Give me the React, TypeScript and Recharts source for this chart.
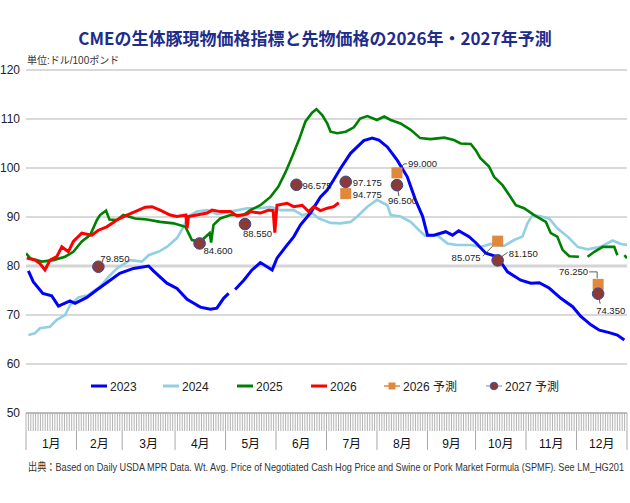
import { CartesianGrid, Line, LineChart, ReferenceLine, XAxis, YAxis } from 'recharts';

// [trading day, price]
const y2023: [number, number | null][] = [
  [1, 79], [3, 76.8], [7, 74.4], [10.7, 73.9], [13.5, 71.8], [18.3, 72.9], [20.4, 72.4], [25.3, 73.6], [29.4, 75.1],
  [35, 77.1], [39, 78.5], [44.7, 79.5], [51, 80], [53, 79], [58.6, 76.5], [62.8, 75.4], [67, 73.2], [72.5, 71.6],
  [76.7, 71.2], [79.4, 71.4], [82.2, 73.4], [84.3, 74.4], [85.5, null], [87, 75.2], [90.6, 77.1], [94, 79.2],
  [97.5, 80.7], [102.4, 79.2], [104.4, 81.6], [108, 83.9], [111.4, 86], [114.2, 88.4], [118.3, 90.8], [122.5, 94.1],
  [125.3, 95.5], [128, 97.6], [130.8, 99.9], [135, 103], [140.5, 105.6], [144, 106.1], [146.8, 105.7], [150.3, 104.3],
  [154.4, 101.6], [158.6, 98.2], [162, 93.5], [165, 90.1], [167, 86.3], [169.7, 86.3], [174.6, 87], [177.4, 86.3],
  [180, 87.2], [184.3, 86], [187, 84.8], [191.3, 82.6], [196, 81.9], [200.3, 78.8], [205.8, 77.1], [210, 76.5],
  [213.5, 76.6], [217.6, 75.5], [222.5, 73.4], [227.4, 71.7], [230.8, 69.7], [235, 68], [238.5, 66.9], [242.6, 66.4],
  [246, 65.9], [248.9, 64.9],
];
const y2024: [number, number | null][] = [
  [1, 65.9], [3.75, 66.3], [5.8, 67.3], [10, 67.6], [12.8, 69], [16.25, 70], [18.3, 72], [21.8, 73.6], [26, 74.1],
  [30.8, 75.8], [34.3, 77.8], [37.8, 79.5], [43.3, 81.2], [48.2, 80.9], [51, 82.2], [55, 82.9], [58.6, 83.9],
  [62.8, 85.7], [65.5, 88], [67.6, 90.1], [71, 91.1], [75.3, 91.4], [79.5, 90.6], [85, 91.1], [92, 91.8], [97.5, 91.8],
  [101.7, 92.1], [105.8, 91.4], [111.4, 91.4], [114.9, 90.4], [119, 90.8], [121.8, 89.7], [126.7, 88.8], [130.8, 88.7],
  [135, 89], [137.8, 90.1], [142, 92.1], [146, 93.5], [150.3, 92.4], [151.7, 90.4], [155.8, 90.1], [160, 89],
  [163.5, 87.3], [166, 86.2], [171, 86.3], [175.3, 84.6], [179.4, 84.3], [185, 84.3], [189, 83.9], [193.3, 84.5],
  [198.9, 84.1], [203, 85.3], [206.5, 86], [208.6, 88.7], [210.7, 90.4], [213.5, 90.2], [217.6, 89.7], [221, 87.7],
  [225.3, 86], [229.5, 83.9], [233.6, 83.4], [239, 83.9], [244, 85.2], [247.5, 84.5], [250, 84.3],
];
const y2025: [number, number | null][] = [
  [0, 82.6], [1.7, 81.6], [6.5, 80.9], [11.4, 81.2], [16.25, 81.9], [19.7, 82.9], [23.2, 85], [26.7, 86.3],
  [29.5, 89.4], [30.8, 90.4], [33.3, 91.3], [34.7, 89.5], [37.8, 89.4], [40.5, 90.4], [45.4, 89.7], [50.3, 89.5],
  [55.8, 89], [61.4, 88.7], [66.3, 88], [67.6, 86.7], [69, 85.3], [72.5, 85], [76.4, 86.7], [77, 84.8], [78, 88.4],
  [80.8, 89.7], [85, 90.4], [90.5, 90.4], [93.3, 91.4], [97.5, 92.4], [101.7, 94.1], [105, 96.2], [108, 99.2],
  [110.7, 102.3], [113.5, 105.7], [116.25, 109.5], [119, 111.3], [120.8, 112], [123.2, 110.8], [125.3, 109.1],
  [126.7, 107.4], [129.5, 107.1], [133, 107.4], [136.4, 108.3], [139, 110.1], [142, 110.6], [146, 109.8], [149, 110.5],
  [151.7, 109.8], [155.8, 109.1], [160, 107.8], [164, 106.1], [168.3, 105.9], [174, 106.2], [178, 105.7], [180.8, 105],
  [185, 104.9], [187, 103.7], [189, 102], [192.6, 100.3], [194.7, 98.2], [198.2, 96.5], [201, 94.5], [203.75, 92.4],
  [207.2, 91.8], [211.4, 90.4], [216.25, 89], [218.3, 86.7], [221, 86], [223.2, 83.3], [226, 82], [230, 81.9],
  [231.8, null], [233.6, 81.9], [236.4, 82.9], [239.9, 83.9], [244.7, 83.9], [246, 82.2], [247.5, null], [248.9, 82.2],
  [250, 81.6],
];
const y2026: [number, number | null][] = [
  [0.3, 81.6], [3.75, 81.2], [5.8, 80.5], [7.9, 79.2], [10, 81.2], [12.8, 81.9], [14.9, 83.9], [17.6, 82.9],
  [19.7, 85], [23.2, 86.7], [27.4, 86.3], [30.1, 87.3], [33.6, 88], [37.8, 89.4], [42, 90.4], [45.4, 91.1],
  [49.6, 92], [52.4, 92.1], [55.8, 91.4], [60, 90.4], [62.8, 90.1], [66.5, 90.4], [67, 87.7], [67.6, 90.1], [71, 90.4],
  [75.3, 90.8], [77.4, 91.4], [80.8, 91.1], [85, 91.1], [87.8, 90.2], [92, 90.6], [93.3, 91.1], [97.5, 90.8],
  [101, 91.4], [102.8, 91.3], [103.5, 86.8], [104.4, 92.4], [108.6, 92.8], [111.4, 92.1], [114.9, 92.4], [117.6, 91.1],
  [119.7, 92.1], [122.5, 91.3], [125.3, 91.8], [128, 92.1], [130.1, 92.9],
];
// futures forecasts at contract months
const f2026: [number, number][] = [[133, 94.775], [154.3, 99.0], [196.2, 85.075], [238, 76.25]];
const f2027: [number, number][] = [
  [30.1, 79.85], [72.2, 84.6], [91.1, 88.55], [112.5, 96.575], [133, 97.175], [154.3, 96.5], [196.2, 81.15], [238, 74.35],
];

const monthEdges = [0, 21, 40, 62, 83, 104, 125, 146, 167, 187, 208, 229, 250];
const monthNames = ['1月', '2月', '3月', '4月', '5月', '6月', '7月', '8月', '9月', '10月', '11月', '12月'];
const yTicks = [50, 60, 70, 80, 90, 100, 110, 120];

const FONT = "'Liberation Sans', Arial, 'Noto Sans CJK JP', sans-serif";
const toPts = (a: [number, number | null][]) => a.map(([d, v]) => ({ d, v }));
const monthMids = monthEdges.slice(0, -1).map((e, i) => (e + monthEdges[i + 1]) / 2);
// one hatch stroke per trading day, plus month centres for the labels
const axisTicks = Array.from(new Set([...Array.from({ length: 251 }, (_, i) => i), ...monthMids])).sort((a, b) => a - b);

// label placement for forecast markers: text offset, anchor, optional leader polyline
type Lab = { dx: number; dy: number; anchor?: 'start' | 'end'; lead?: number[][] };
const lab2026: Lab[] = [
  { dx: 7, dy: 4 },
  { dx: 11, dy: -6, lead: [[2, -3], [7, -9], [10, -9]] },
  { dx: -17, dy: 20, anchor: 'end', lead: [[0, 0], [-15, 15]] },
  { dx: -10, dy: -9, anchor: 'end', lead: [[-9, -12.5], [-1, -12.5], [-1, -6]] },
];
const lab2027: Lab[] = [
  { dx: 2, dy: -5 },
  { dx: 4, dy: 11 },
  { dx: -2, dy: 13 },
  { dx: 6, dy: 4 },
  { dx: 7, dy: 4 },
  { dx: -9, dy: 19, lead: [[1, 5], [2, 11]] },
  { dx: 11, dy: -3, lead: [[3, -3], [10, -8]] },
  { dx: -2, dy: 20, lead: [[1, 5], [2, 10]] },
];

function markLabel(cx: number, cy: number, value: number, l: Lab) {
  return (
    <g>
      {l.lead && (
        <polyline
          points={l.lead.map(([a, b]) => `${cx + a},${cy + b}`).join(' ')}
          fill="none"
          stroke="#333"
          strokeWidth={0.8}
        />
      )}
      <text x={cx + l.dx} y={cy + l.dy} textAnchor={l.anchor || 'start'} fontSize={9.5} fill="#222" fontFamily={FONT}>
        {value.toFixed(3)}
      </text>
    </g>
  );
}

const squareDot = (p: any) => {
  const { cx, cy, index, payload } = p;
  return (
    <g key={`s${index}`}>
      {markLabel(cx, cy, payload.v, lab2026[index])}
      <rect x={cx - 5.5} y={cy - 5.5} width={11} height={11} fill="#e0883c" />
    </g>
  );
};
const circleDot = (p: any) => {
  const { cx, cy, index, payload } = p;
  return (
    <g key={`c${index}`}>
      {markLabel(cx, cy, payload.v, lab2027[index])}
      <circle cx={cx} cy={cy} r={5.8} fill="#8b3a3a" stroke="#3a4a8c" strokeWidth={1} />
    </g>
  );
};

// y is the axis top here (tickSize 0, tickMargin 0)
const renderAxisTick = (p: any) => {
  const { x, y, payload } = p;
  const v = payload.value;
  const mi = monthMids.indexOf(v);
  return (
    <g>
      {Number.isInteger(v) && <line x1={x} y1={y} x2={x} y2={y + 18} stroke="#b3b3b3" strokeWidth={1} />}
      {monthEdges.includes(v) && <line x1={x} y1={y + 18} x2={x} y2={y + 37} stroke="#a8a8a8" strokeWidth={1} />}
      {mi >= 0 && (
        <text x={x} y={y + 35} textAnchor="middle" fontSize={12} fill="#111" fontFamily={FONT}>
          {monthNames[mi]}
        </text>
      )}
    </g>
  );
};

const legendItems = [
  { name: '2023', color: '#0000ff', x: 91 },
  { name: '2024', color: '#92cfe2', x: 163 },
  { name: '2025', color: '#008000', x: 237 },
  { name: '2026', color: '#ff0000', x: 311 },
  { name: '2026 予測', color: '#e0883c', x: 384, mark: 'sq' },
  { name: '2027 予測', color: '#a9a9e0', x: 486, mark: 'ci' },
];

export default function App() {
  return (
    <div style={{ position: 'absolute', left: 0, top: 0, width: 630, height: 503, background: '#fff', fontFamily: FONT }}>
      <LineChart width={630} height={452} margin={{ top: 70, right: 3, bottom: 2, left: 0 }}>
        <CartesianGrid vertical={false} stroke="#b4b4b4" strokeWidth={1.2} />
        <XAxis
          dataKey="d"
          type="number"
          domain={[0, 250]}
          ticks={axisTicks}
          interval={0}
          tick={renderAxisTick}
          tickLine={false}
          tickSize={0}
          tickMargin={0}
          axisLine={{ stroke: '#9a9a9a' }}
          height={37}
          allowDataOverflow
        />
        <YAxis
          type="number"
          domain={[50, 120]}
          ticks={yTicks}
          interval={0}
          width={26}
          axisLine={false}
          tickLine={false}
          tickSize={0}
          tickMargin={6}
          tick={{ fontSize: 12, fill: '#222', fontFamily: FONT }}
        />
        <ReferenceLine y={80} stroke="#d4d4d4" strokeWidth={3} />
        <Line data={toPts(y2024)} dataKey="v" stroke="#92cfe2" strokeWidth={2.6} dot={false} isAnimationActive={false} />
        <Line data={toPts(y2023)} dataKey="v" stroke="#0000ff" strokeWidth={3} dot={false} isAnimationActive={false} />
        <Line data={toPts(y2025)} dataKey="v" stroke="#008000" strokeWidth={2.6} dot={false} isAnimationActive={false} />
        <Line data={toPts(y2026)} dataKey="v" stroke="#ff0000" strokeWidth={3} dot={false} isAnimationActive={false} />
        <Line data={toPts(f2026)} dataKey="v" stroke="none" dot={squareDot} activeDot={false} isAnimationActive={false} />
        <Line data={toPts(f2027)} dataKey="v" stroke="none" dot={circleDot} activeDot={false} isAnimationActive={false} />
      </LineChart>
      <svg width={630} height={503} style={{ position: 'absolute', left: 0, top: 0, pointerEvents: 'none' }}>
        <text x={315} y={45} textAnchor="middle" fontSize={17} fontWeight="bold" fill="#1e2d8c" fontFamily="'Noto Sans CJK JP', sans-serif">
          CMEの生体豚現物価格指標と先物価格の2026年・2027年予測
        </text>
        <text x={27} y={64} fontSize={10} fill="#333" fontFamily={FONT}>単位:ドル/100ポンド</text>
        {legendItems.map((it) => (
          <g key={it.name}>
            <line x1={it.x} y1={386} x2={it.x + 16} y2={386} stroke={it.color} strokeWidth={it.mark ? 1.5 : 3} />
            {it.mark === 'sq' && <rect x={it.x + 4.5} y={382.5} width={7} height={7} fill="#e0883c" />}
            {it.mark === 'ci' && <circle cx={it.x + 8} cy={386} r={3.8} fill="#8b3a3a" stroke="#3a4a8c" strokeWidth={0.8} />}
            <text x={it.x + 19} y={390.5} fontSize={12} fill="#222" fontFamily={FONT}>{it.name}</text>
          </g>
        ))}
        <text x={28} y={471} fontSize={11.5} fill="#333" fontFamily="'Liberation Sans Narrow', 'Liberation Sans', 'Noto Sans CJK JP', sans-serif" textLength={596} lengthAdjust="spacingAndGlyphs">
          出典：Based on Daily USDA MPR Data. Wt. Avg. Price of Negotiated Cash Hog Price and Swine or Pork Market Formula (SPMF). See LM_HG201
        </text>
      </svg>
    </div>
  );
}
